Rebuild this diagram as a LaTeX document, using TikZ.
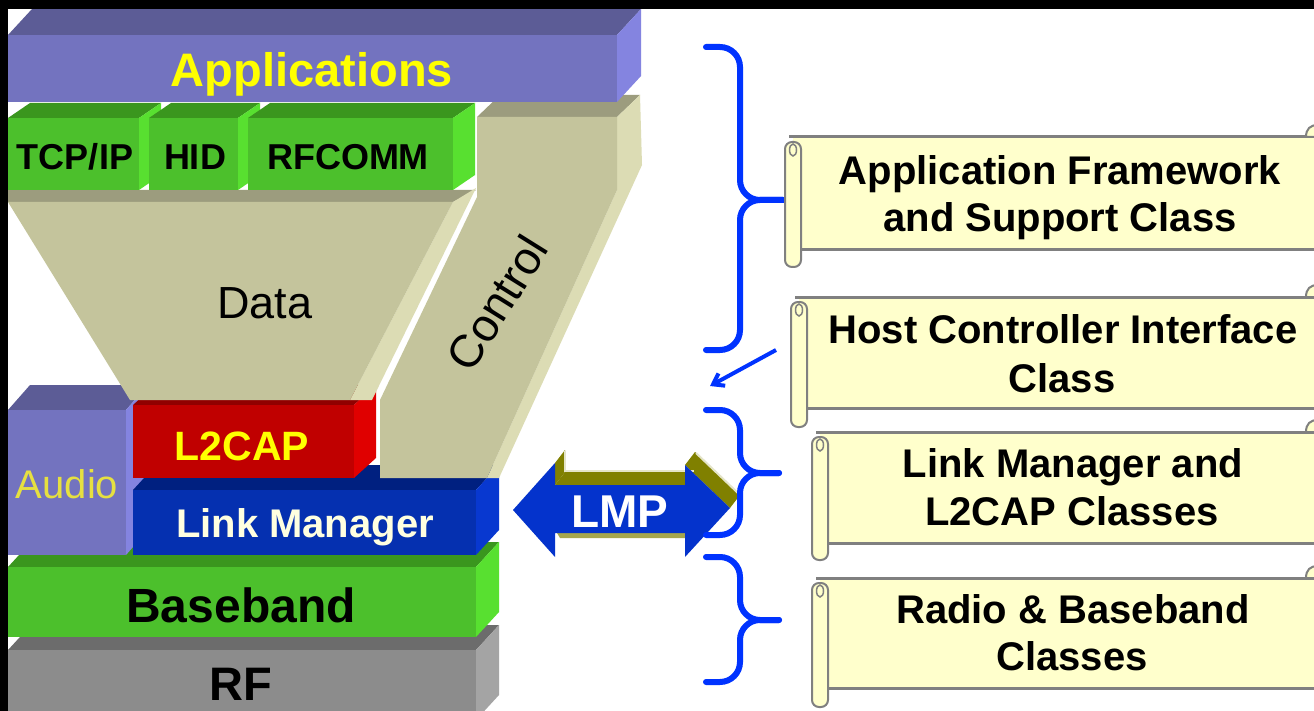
\documentclass[tikz,border=0pt]{standalone}
\usepackage{fontspec}
\setmainfont{Liberation Sans}
\usetikzlibrary{arrows.meta}
\definecolor{apF}{HTML}{7373BF}\definecolor{apT}{HTML}{5C5C96}\definecolor{apS}{HTML}{8484E0}
\definecolor{grF}{HTML}{4CC02C}\definecolor{grT}{HTML}{3A961E}\definecolor{grS}{HTML}{58E030}
\definecolor{beF}{HTML}{C4C49C}\definecolor{beT}{HTML}{9C9C7E}\definecolor{beS}{HTML}{DCDCB4}
\definecolor{l2F}{HTML}{C00000}\definecolor{l2T}{HTML}{900000}\definecolor{l2S}{HTML}{E00000}
\definecolor{lmF}{HTML}{0530B0}\definecolor{lmT}{HTML}{002080}\definecolor{lmS}{HTML}{0838D0}
\definecolor{rfF}{HTML}{8C8C8C}\definecolor{rfT}{HTML}{6C6C6C}\definecolor{rfS}{HTML}{A4A4A4}
\definecolor{lmpblue}{HTML}{0433CC}\definecolor{olv}{HTML}{808000}\definecolor{olvlight}{HTML}{E4E4C8}
\definecolor{bracecol}{HTML}{0033FF}
\definecolor{scrollfill}{HTML}{FFFFCC}\definecolor{scrolledge}{HTML}{808080}
\definecolor{appyellow}{HTML}{FFFF00}\definecolor{audioyellow}{HTML}{E6E040}\definecolor{lmtext}{HTML}{FFFFE0}
\newcommand\fs[1]{\fontsize{#1}{#1}\selectfont}
% 3D slab: x1 y1 x2 y2 dx dy front top side
\newcommand\slab[9]{%
  \fill[#8] (#1,#2) -- (#1+#5,#2-#6) -- (#3+#5,#2-#6) -- (#3,#2) -- cycle;
  \fill[#9] (#3,#2) -- (#3+#5,#2-#6) -- (#3+#5,#4-#6) -- (#3,#4) -- cycle;
  \fill[#7] (#1,#2) rectangle (#3,#4);
}
% scroll: curl x, top, bottom, curl bottom
\newcommand\scrollbox[4]{%
  \fill[scrollfill] (#1+8,#2) rectangle (1330,#3);
  \draw[scrolledge, line width=3pt] (#1+4,#2) -- (1330,#2);
  \draw[scrolledge, line width=3pt] (#1+16,#3) -- (1330,#3);
  \filldraw[scrolledge, line width=2pt, fill=scrollfill, rounded corners=7pt] (#1,#2+5) rectangle (#1+16,#4);
  \draw[scrolledge, line width=1.5pt] (#1+8,#2+13) ellipse (3.5 and 6);
  \filldraw[scrolledge, line width=2pt, fill=scrollfill] (1306,#2) .. controls (1306,#2-8) and (1310,#2-12) .. (1318,#2-12) -- (1318,#2) -- cycle;
}
\tikzset{
  btxt/.style={anchor=base, inner sep=0pt, font=\bfseries\fs{40}},
  brace/.style={draw=bracecol, line width=6pt, rounded corners=20pt, line cap=round},
}
\begin{document}
\begin{tikzpicture}[x=1pt,y=-1pt]
\useasboundingbox (0,0) rectangle (1314,711);
\clip (0,0) rectangle (1314,711);
\fill[white] (0,0) rectangle (1314,711);

% ---- protocol stack (back to front) ----
\slab{8}{650}{476}{720}{23}{25}{rfF}{rfT}{rfS}
\slab{8}{567}{476}{637}{23}{25}{grF}{grT}{grS}
\slab{8}{410}{126}{555}{22}{25}{apF}{apT}{apS}
\slab{133}{490}{476}{555}{23}{25}{lmF}{lmT}{lmS}
\slab{133}{405}{354}{478}{22}{20}{l2F}{l2T}{l2S}

% control strip
\fill[beT] (477,117) -- (617,117) -- (640,95) -- (500,95) -- cycle;
\fill[beS] (617,117) -- (640,95) -- (642,165) -- (499,478) -- (487,478) -- (617,190) -- cycle;
\fill[beF] (477,117) -- (617,117) -- (617,190) -- (487,478) -- (380,478) -- (380,400) -- (477,197) -- cycle;

% data funnel
\fill[beT] (8,190) -- (476,190) -- (453,202) -- (8,202) -- cycle;
\fill[beS] (453,202) -- (476,188) -- (372,400) -- (350,400) -- cycle;
\fill[beF] (8,202) -- (453,202) -- (350,400) -- (130,400) -- cycle;

% green protocol row
\slab{8}{118}{139}{190}{22}{15}{grF}{grT}{grS}
\slab{149}{118}{238}{190}{22}{15}{grF}{grT}{grS}
\slab{248}{118}{453}{190}{22}{15}{grF}{grT}{grS}

% applications
\slab{8}{35}{617}{102}{24}{26}{apF}{apT}{apS}

% labels
\node[btxt, font=\bfseries\fs{47}, text=appyellow] (apps) at (312,87) {Applications};
\node[btxt, font=\bfseries\fs{36}] (tcp) at (75,170) {TCP/IP};
\node[btxt, font=\bfseries\fs{36}] (hid) at (195,170) {HID};
\node[btxt, font=\bfseries\fs{36}] (rfcomm) at (348,170) {RFCOMM};
\node[anchor=base, inner sep=0pt, font=\fs{45}] (data) at (265,318) {Data};
\node[inner sep=0pt, font=\fs{46}, rotate=58] (control) at (497,303) {Control};
\node[btxt, font=\bfseries\fs{41}, text=appyellow] (l2cap) at (242,460) {L2CAP};
\node[anchor=base, inner sep=0pt, font=\fs{40}, text=audioyellow] (audio) at (67,498) {Audio};
\node[btxt, font=\bfseries\fs{40}, text=lmtext] (lm) at (305,537) {Link Manager};
\node[btxt, font=\bfseries\fs{48}] (baseband) at (241,622) {Baseband};
\node[btxt, font=\bfseries\fs{47}] (rf) at (241,700) {RF};

% ---- LMP double arrow ----
\fill[olv] (555,463) -- (565,450) -- (565,472) -- (555,485) -- cycle;
\fill[olv] (555,485) -- (565,472) -- (695,472) -- (685,485) -- cycle;
\fill[olv] (685,465) -- (695,452) -- (740,495) -- (730,508) -- cycle;
\draw[olvlight, line width=2pt] (565,451) -- (565,471) -- (694,471);
\draw[olvlight, line width=2pt] (696,453) -- (740,495);
\fill[olv!70] (557,533) -- (685,533) -- (685,538) -- (560,538) -- cycle;
\fill[lmpblue] (513,510) -- (555,463) -- (555,485) -- (685,485) -- (685,465) -- (730,508)
   -- (685,557) -- (685,533) -- (555,533) -- (555,557) -- cycle;
\node[btxt, font=\bfseries\fs{46}, text=white] (lmp) at (620,527) {LMP};

% ---- braces ----
\draw[brace] (706,47) -- (740,47) -- (740,200) -- (783,200);
\draw[brace] (783,200) -- (740,200) -- (740,350) -- (706,350);
\draw[brace] (706,410) -- (740,410) -- (740,473) -- (779,473);
\draw[brace] (779,473) -- (740,473) -- (740,535) -- (706,535);
\draw[brace] (706,557) -- (740,557) -- (740,620) -- (779,620);
\draw[brace] (779,620) -- (740,620) -- (740,682) -- (706,682);

% HCI pointer
\coordinate (hciFrom) at (776,350);
\coordinate (hciTo) at (710,386);
\draw[bracecol, line width=4pt, -{Straight Barb[length=10pt,width=14pt]}] (hciFrom) -- (hciTo);

% ---- scroll boxes ----
\scrollbox{785}{137}{250}{267}
\scrollbox{791}{297}{408}{427}
\scrollbox{812}{432}{543}{560}
\scrollbox{812}{578}{688}{707}

\node[btxt] (afA) at (1060,185) {Application Framework};
\node[btxt] (afB) at (1060,232) {and Support Class};
\node[btxt] (hciA) at (1063,343) {Host Controller Interface};
\node[btxt] (hciB) at (1062,392) {Class};
\node[btxt] (lmA) at (1073,477) {Link Manager and};
\node[btxt] (lmB) at (1072,525) {L2CAP Classes};
\node[btxt] (rbA) at (1073,623) {Radio \& Baseband};
\node[btxt] (rbB) at (1072,670) {Classes};

% black frame bands
\fill[black] (0,0) rectangle (1314,9);
\fill[black] (0,0) rectangle (8,711);
\end{tikzpicture}
\end{document}
